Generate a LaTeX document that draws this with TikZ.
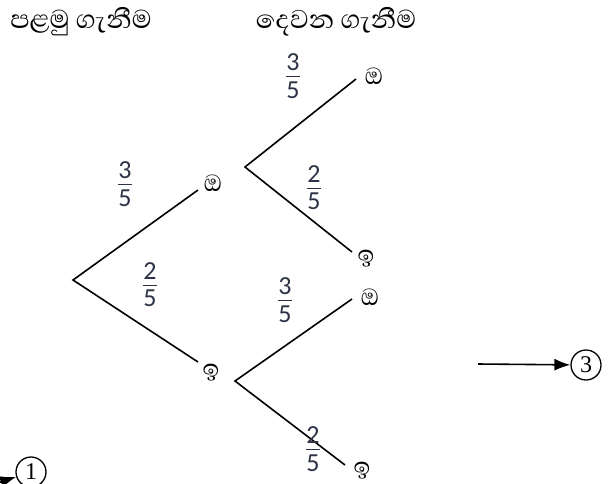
\documentclass[tikz,border=0pt]{standalone}
\usepackage{fontspec}
\setmainfont{Liberation Serif}
\newfontfamily\sinhalafont[Script=Sinhala]{Abhaya Libre}
\newfontfamily\fracfont{Carlito}
\usetikzlibrary{arrows.meta}
\definecolor{fraccol}{RGB}{45,50,70}
\tikzset{
  branch/.style={line width=1.6pt},
  lbl/.style={font=\sinhalafont\fontsize{30pt}{30pt}\selectfont, inner sep=0pt},
  ttl/.style={font=\sinhalafont\fontsize{33pt}{33pt}\selectfont, inner sep=0pt},
  frac/.style={font=\fracfont\fontsize{26pt}{26pt}\selectfont, text=fraccol, inner sep=0pt},
  circ/.style={draw, circle, line width=1.3pt, minimum size=30pt, inner sep=0pt, font=\fontsize{24pt}{24pt}\selectfont},
  arr/.style={line width=1.6pt, -{Latex[length=16pt,width=12pt]}}
}
\newcommand{\fr}[2]{\vbox{\offinterlineskip\halign{\hfil##\hfil\cr #1\cr\noalign{\kern5pt}\rule{14pt}{1.6pt}\cr\noalign{\kern4pt}#2\cr}}}
\begin{document}
\begin{tikzpicture}[x=1pt,y=-1pt]
\useasboundingbox (0,0) rectangle (609,483);
\node[ttl] (t1) at (81,22) {පළමු ගැනීම};
\node[ttl] (t2) at (336,22) {දෙවන ගැනීම};
% first tree
\coordinate (r) at (73,280);
\coordinate (a) at (198,190);
\coordinate (b) at (198,362);
\draw[branch] (a) -- (r) -- (b);
\node[lbl] (la) at (213,183) {ඔ};
\node[lbl] (lb) at (211,373) {ඉ};
\node[frac] (f1) at (125,184) {\fr{3}{5}};
\node[frac] (f2) at (150,285) {\fr{2}{5}};
% second tree top
\coordinate (r2) at (245,167);
\coordinate (c) at (356,79);
\coordinate (d) at (352,252);
\draw[branch] (c) -- (r2) -- (d);
\node[lbl] (lc) at (374,76) {ඔ};
\node[lbl] (ld) at (366,259) {ඉ};
\node[frac] (f3) at (293,76) {\fr{3}{5}};
\node[frac] (f4) at (314,188) {\fr{2}{5}};
% second tree bottom
\coordinate (r3) at (235,381);
\coordinate (e) at (352,299);
\coordinate (g) at (345,465);
\draw[branch] (e) -- (r3) -- (g);
\node[lbl] (le) at (370,297) {ඔ};
\node[lbl] (lg) at (362,471) {ඉ};
\node[frac] (f5) at (285,300) {\fr{3}{5}};
\node[frac] (f6) at (313,449) {\fr{2}{5}};
% circles and arrows
\node[circ] (c3) at (586,365) {3};
\coordinate (s3) at (478,364);
\draw[arr] (s3) -- (c3);
\node[circ] (c1) at (31,472) {1};
\coordinate (s1) at (-30,492);
\draw[arr] (s1) -- (c1);
\end{tikzpicture}
\end{document}
